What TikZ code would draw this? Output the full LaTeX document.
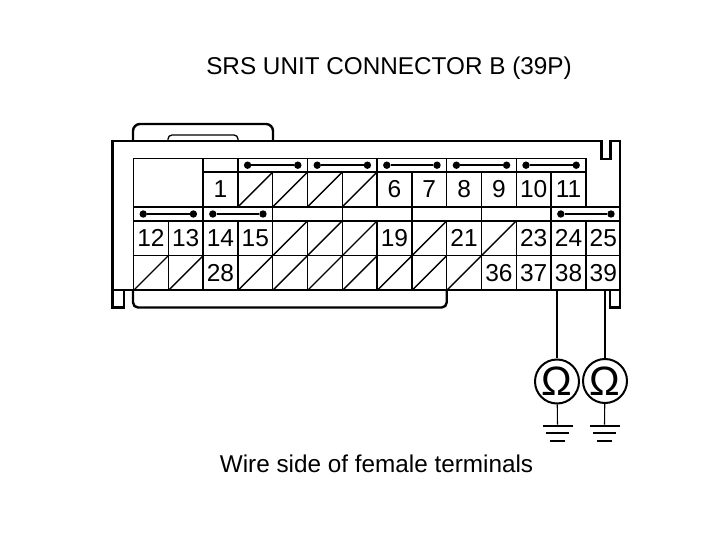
\documentclass[tikz,border=0pt]{standalone}
\usepackage{fontspec}
\setmainfont{Liberation Sans}
\usetikzlibrary{positioning}
\tikzset{%
	cell/.style     = {draw, rectangle, line width=1.5pt, inner sep=0pt, outer sep=0pt, minimum width=34.8pt, minimum height=34.8pt, font=\fontsize{24.5}{24.5}\selectfont}, % Numbered terminal
	blank/.style    = {cell, path picture={\draw[line width=1.4pt] (path picture bounding box.south west) -- (path picture bounding box.north east);}}, % Unused terminal
	band/.style     = {draw, rectangle, line width=1.5pt, inner sep=0pt, outer sep=0pt, minimum width=69.6pt, minimum height=13.8pt, anchor=south},
	dot/.style      = {circle, fill=black, inner sep=0pt, outer sep=0pt, minimum size=7.4pt},
	strap/.style    = {line width=2.4pt},
	shell/.style    = {line width=2.4pt},
	meter/.style    = {draw, circle, fill=white, line width=2pt, inner sep=0pt, minimum size=44pt, font=\fontsize{41}{41}\selectfont},
	wire/.style     = {line width=1.1pt},
	bar/.style      = {rectangle, fill=black, inner sep=0pt},
	title/.style    = {font=\fontsize{24.3}{24.3}\selectfont},
}
\begin{document}
\begin{tikzpicture}[x=1pt,y=-1pt,node distance=34.8pt]
	\useasboundingbox (0,0) rectangle (726,534);
	\fill[white] (0,0) rectangle (726,534);
	\node [title] (head) at (389,68) {SRS UNIT CONNECTOR B (39P)};
	\node [title] (foot) at (376.5,464) {Wire side of female terminals};
	
	% upper row
	\node [cell] (p1) at (220.5,189.5) {1};
	\node [blank] (p2) [right of=p1] {};
	\node [blank] (p3) [right of=p2] {};
	\node [blank] (p4) [right of=p3] {};
	\node [blank] (p5) [right of=p4] {};
	\node [cell] (p6) [right of=p5] {6};
	\node [cell] (p7) [right of=p6] {7};
	\node [cell] (p8) [right of=p7] {8};
	\node [cell] (p9) [right of=p8] {9};
	\node [cell] (p10) [right of=p9] {10};
	\node [cell] (p11) [right of=p10] {11};
	
	% middle row
	\node [cell] (p12) at (150.9,238.3) {12};
	\node [cell] (p13) [right of=p12] {13};
	\node [cell] (p14) [right of=p13] {14};
	\node [cell] (p15) [right of=p14] {15};
	\node [blank] (p16) [right of=p15] {};
	\node [blank] (p17) [right of=p16] {};
	\node [blank] (p18) [right of=p17] {};
	\node [cell] (p19) [right of=p18] {19};
	\node [blank] (p20) [right of=p19] {};
	\node [cell] (p21) [right of=p20] {21};
	\node [blank] (p22) [right of=p21] {};
	\node [cell] (p23) [right of=p22] {23};
	\node [cell] (p24) [right of=p23] {24};
	\node [cell] (p25) [right of=p24] {25};
	
	% lower row
	\node [blank] (p26) [below of=p12] {};
	\node [blank] (p27) [right of=p26] {};
	\node [cell] (p28) [right of=p27] {28};
	\node [blank] (p29) [right of=p28] {};
	\node [blank] (p30) [right of=p29] {};
	\node [blank] (p31) [right of=p30] {};
	\node [blank] (p32) [right of=p31] {};
	\node [blank] (p33) [right of=p32] {};
	\node [blank] (p34) [right of=p33] {};
	\node [blank] (p35) [right of=p34] {};
	\node [cell] (p36) [right of=p35] {36};
	\node [cell] (p37) [right of=p36] {37};
	\node [cell] (p38) [right of=p37] {38};
	\node [cell] (p39) [right of=p38] {39};
	
	% bands over the rows
	\node [band,minimum width=34.8pt] (b0) at (p1.north) {};
	\node [band] (b1) at (p2.north east) {};
	\node [band] (b2) at (p4.north east) {};
	\node [band] (b3) at (p6.north east) {};
	\node [band] (b4) at (p8.north east) {};
	\node [band] (b5) at (p10.north east) {};
	\node [band] (b6) at (p12.north east) {};
	\node [band] (b7) at (p14.north east) {};
	\node [band] (b8) at (p16.north east) {};
	\node [band] (b9) at (p18.north east) {};
	\node [band] (b10) at (p20.north east) {};
	\node [band] (b11) at (p22.north east) {};
	\node [band] (b12) at (p24.north east) {};
	\node [band,minimum width=69.6pt,minimum height=48.6pt,anchor=south east] (spare) at (p1.south west) {};
	
	% shorting straps
	\node [dot,right=6pt of b1.west] (b1l) {};
	\node [dot,left=6pt of b1.east] (b1r) {};
	\node [dot,right=6pt of b2.west] (b2l) {};
	\node [dot,left=6pt of b2.east] (b2r) {};
	\node [dot,right=6pt of b3.west] (b3l) {};
	\node [dot,left=6pt of b3.east] (b3r) {};
	\node [dot,right=6pt of b4.west] (b4l) {};
	\node [dot,left=6pt of b4.east] (b4r) {};
	\node [dot,right=6pt of b5.west] (b5l) {};
	\node [dot,left=6pt of b5.east] (b5r) {};
	\node [dot,right=6pt of b6.west] (b6l) {};
	\node [dot,left=6pt of b6.east] (b6r) {};
	\node [dot,right=6pt of b7.west] (b7l) {};
	\node [dot,left=6pt of b7.east] (b7r) {};
	\node [dot,right=6pt of b12.west] (b12l) {};
	\node [dot,left=6pt of b12.east] (b12r) {};
	\draw[strap] (b1l) -- (b1r);
	\draw[strap] (b2l) -- (b2r);
	\draw[strap] (b3l) -- (b3r);
	\draw[strap] (b4l) -- (b4r);
	\draw[strap] (b5l) -- (b5r);
	\draw[strap] (b6l) -- (b6r);
	\draw[strap] (b7l) -- (b7r);
	\draw[strap] (b12l) -- (b12r);
	
	% connector shell
	\draw[shell] (112.5,290) -- (112.5,141) -- (601.5,141) -- (601.5,159) -- (610.5,159) -- (610.5,141) -- (620,141) -- (620,307.5) -- (610,307.5) -- (610,290);
	\draw[shell] (112.5,290) -- (620,290);
	\draw[shell] (112.5,290) -- (112.5,307.5) -- (124,307.5) -- (124,290);
	\draw[shell,rounded corners=5pt] (133,290) -- (133,307.5) -- (446.7,307.5) -- (446.7,290);
	\draw[shell,rounded corners=7pt] (133,141) -- (133,124) -- (273,124) -- (273,141);
	\draw[line width=1.3pt,rounded corners=4pt] (168,141) -- (168,135) -- (238,135) -- (238,141);
	
	% meters and grounds
	\node [meter] (m38) at (557,381.5) {Ω};
	\node [meter] (m39) at (605,381) {Ω};
	\draw[wire] (m38 |- p38.south) -- (m38);
	\draw[wire] (m39 |- p39.south) -- (m39);
	\node [bar,minimum width=30pt,minimum height=2.4pt] (g38a) at (557.5,426) {};
	\node [bar,minimum width=23pt,minimum height=2pt] (g38b) at (557.5,433.5) {};
	\node [bar,minimum width=15pt,minimum height=2pt] (g38c) at (557.5,441) {};
	\node [bar,minimum width=30pt,minimum height=2.4pt] (g39a) at (604.5,426) {};
	\node [bar,minimum width=23pt,minimum height=2pt] (g39b) at (604.5,433.5) {};
	\node [bar,minimum width=15pt,minimum height=2pt] (g39c) at (604.5,441) {};
	\draw[wire] (m38) -- (g38a);
	\draw[wire] (m39) -- (g39a);
\end{tikzpicture}
\end{document}
